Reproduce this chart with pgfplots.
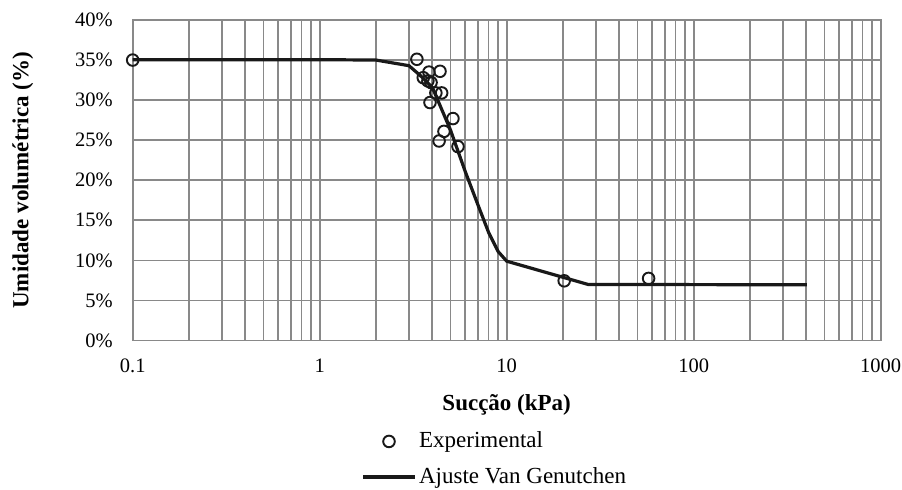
\documentclass[border=0pt]{standalone}
\usepackage{fontspec}
\setmainfont{Liberation Serif}
\usepackage{pgfplots}
\pgfplotsset{compat=1.18}
\definecolor{gridgray}{RGB}{137,137,137}
\begin{document}
\fontsize{20bp}{24bp}\selectfont
\begin{tikzpicture}
\useasboundingbox (-132.7bp,-149.5bp) rectangle (769.3bp,340.5bp);
\begin{axis}[
  at={(0,0)}, anchor=south west,
  scale only axis, width=748bp, height=320.5bp,
  xmode=log, xmin=0.1, xmax=1000, ymin=0, ymax=40,
  xtick={0.1,1,10,100,1000}, xticklabels={0.1,1,10,100,1000},
  minor xtick={0.2,0.3,0.4,0.5,0.6,0.7,0.8,0.9,2,3,4,5,6,7,8,9,20,30,40,50,60,70,80,90,200,300,400,500,600,700,800,900},
  ytick={0,5,10,15,20,25,30,35,40},
  yticklabels={0\%,5\%,10\%,15\%,20\%,25\%,30\%,35\%,40\%},
  grid=both,
  major grid style={draw=gridgray, line width=1.7bp},
  minor grid style={draw=gridgray, line width=1.7bp},
  axis line style={draw=gridgray, line width=1.7bp},
  major tick length=0pt, minor tick length=0pt,
  tick label style={font=\fontsize{20.5bp}{24bp}\selectfont, inner sep=0pt},
  xticklabel style={anchor=north, yshift=-18.5bp},
  yticklabel style={anchor=east, xshift=-19.7bp},
  xlabel={\textbf{Sucção (kPa)}},
  ylabel={\textbf{Umidade volumétrica (\%)}},
  label style={font=\fontsize{23bp}{27bp}\selectfont},
  xlabel style={at={(axis description cs:0.5,-0.201)}, anchor=center},
  ylabel style={at={(axis description cs:-0.147,0.5)}, anchor=center},
  legend style={draw=none, fill=none, inner sep=0pt, row sep=11.5bp,
    at={(axis description cs:0.3055,-0.2770)}, anchor=north west,
    font=\fontsize{23bp}{27bp}\selectfont,
    nodes={inner sep=2.5bp}},
  legend cell align=left,
  legend image code/.code={\draw[mark repeat=2,mark phase=2,#1] plot coordinates {(0bp,0bp) (26bp,0bp) (52bp,0bp)};},
]
\addplot[only marks, mark=o, mark size=5.8bp, mark options={line width=1.9bp, draw=black!90}] coordinates {
(0.1,35.0) (3.31,35.1) (3.84,33.5) (4.40,33.6) (3.58,32.8) (3.79,32.4) (3.94,32.2)
(4.18,30.9) (4.49,30.9) (3.89,29.7) (5.16,27.7) (4.62,26.1) (4.35,24.9) (5.49,24.2)
(20.3,7.45) (57.4,7.75)
};
\addlegendentry{Experimental}
\addplot[black!90, line width=3.2bp, mark=none] coordinates {
(0.1,35.05) (0.5,35.05) (1,35.05) (2,35.0) (3,34.3) (3.44,33.1) (4,31.6) (5,26.3)
(6,21.1) (7,17.0) (8,13.5) (9,11.1) (10,9.9) (27.2,7.0) (403,6.95)
};
\addlegendentry{Ajuste Van Genutchen}
\end{axis}
\end{tikzpicture}
\end{document}
